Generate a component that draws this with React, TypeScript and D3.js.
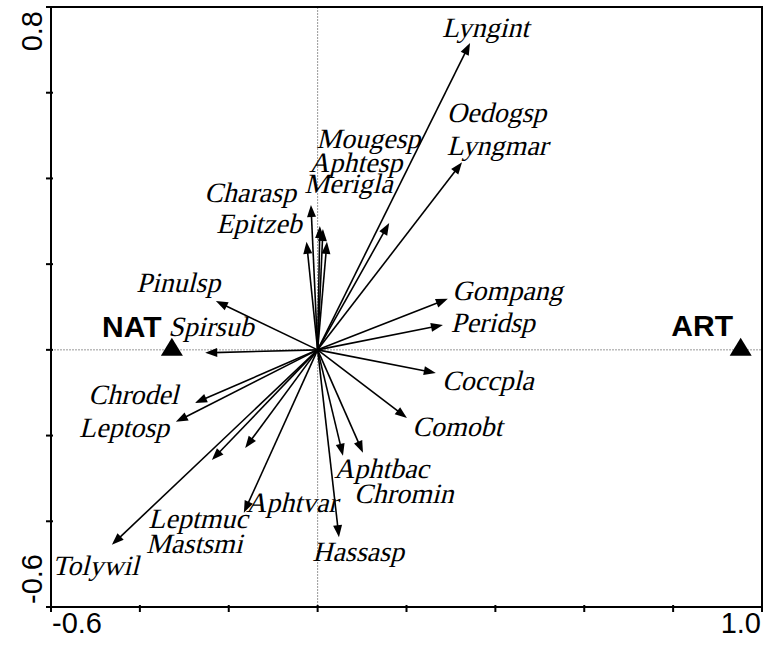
import React from "react";
import * as d3 from "d3";

const W = 763;
const H = 650;

// Species arrows (tip coordinates in axis units)
const species = ["Lyngint", "Oedogsp", "Lyngmar", "Mougesp", "Aphtesp", "Merigla", "Charasp", "Epitzeb", "Pinulsp", "Spirsub", "Gompang", "Peridsp", "Coccpla", "Comobt", "Aphtbac", "Chromin", "Hassasp", "Aphtvar", "Leptmuc", "Mastsmi", "Tolywil", "Chrodel", "Leptosp"];
const arrowX = [0.343, 0.161, 0.325, 0.005, 0.012, 0.021, -0.015, -0.025, -0.229, -0.253, 0.293, 0.282, 0.266, 0.201, 0.057, 0.102, 0.048, -0.166, -0.238, -0.163, -0.463, -0.276, -0.319];
const arrowY = [0.716, 0.296, 0.438, 0.289, 0.282, 0.252, 0.338, 0.252, 0.114, -0.007, 0.119, 0.058, -0.054, -0.159, -0.247, -0.240, -0.437, -0.380, -0.257, -0.229, -0.455, -0.124, -0.168];
// Label anchor positions (axis units)
const labelX = [0.282, 0.293, 0.293, -0.001, -0.017, -0.028, -0.253, -0.226, -0.406, -0.334, 0.305, 0.302, 0.282, 0.215, 0.039, 0.084, -0.010, -0.159, -0.379, -0.384, -0.595, -0.514, -0.535];
const labelY = [0.730, 0.532, 0.455, 0.471, 0.415, 0.366, 0.345, 0.273, 0.135, 0.032, 0.116, 0.042, -0.094, -0.201, -0.299, -0.357, -0.493, -0.378, -0.416, -0.474, -0.525, -0.126, -0.203];

// Sample (nominal variable) points
const sampleNames = ["NAT", "ART"];
const sampleX = [-0.328, 0.952];
const sampleY = [0, 0];
const sampleLabelX = [-0.485, 0.796];
const sampleLabelY = [0.03, 0.032];

const xTicks = [-0.6, -0.4, -0.2, 0, 0.2, 0.4, 0.6, 0.8, 1.0];
const yTicks = [-0.6, -0.4, -0.2, 0, 0.2, 0.4, 0.6, 0.8];
const xTickLabels = ["-0.6", "1.0"];
const yTickLabels = ["-0.6", "0.8"];

const serif = { fontFamily: "Liberation Serif, Times New Roman, Times, serif", fontStyle: "normal", fontSize: "28px" } as React.CSSProperties;
const sans = { fontFamily: "Liberation Sans, Arial, Helvetica, sans-serif" } as React.CSSProperties;

export default function App() {
  const left = 51, right = 762, top = 7, bottom = 607;
  const x = d3.scaleLinear().domain([-0.6, 1.0]).range([left, right]);
  const y = d3.scaleLinear().domain([-0.6, 0.8]).range([bottom, top]);
  const x0 = x(0), y0 = y(0);

  const head = (tx: number, ty: number) => {
    const ang = Math.atan2(ty - y0, tx - x0);
    const L = 12, hw = 4.5;
    const bx = tx - L * Math.cos(ang), by = ty - L * Math.sin(ang);
    const px = -Math.sin(ang), py = Math.cos(ang);
    return `M${tx},${ty}L${bx + hw * px},${by + hw * py}L${bx - hw * px},${by - hw * py}Z`;
  };

  return (
    <svg width={W} height={H} style={{ position: "absolute", left: 0, top: 0, background: "#fff" }}>
      <rect x={0} y={0} width={W} height={H} fill="#fff" />
      {/* zero lines */}
      <line x1={x0} x2={x0} y1={top} y2={bottom} stroke="#999" strokeWidth={1} strokeDasharray="2,1" />
      <line x1={left} x2={right} y1={y0} y2={y0} stroke="#999" strokeWidth={1} strokeDasharray="2,1" />

      {/* arrows */}
      {species.map((s, i) => {
        const tx = x(arrowX[i]), ty = y(arrowY[i]);
        const ang = Math.atan2(ty - y0, tx - x0);
        const ex = tx - 8 * Math.cos(ang), ey = ty - 8 * Math.sin(ang);
        return (
          <g key={s}>
            <line x1={x0} y1={y0} x2={ex} y2={ey} stroke="#000" strokeWidth={1.6} />
            <path d={head(tx, ty)} fill="#000" />
          </g>
        );
      })}

      {/* species labels (serif, slanted) */}
      {species.map((s, i) => (
        <text key={"l" + s} transform={`translate(${x(labelX[i]) - 1},${y(labelY[i])}) skewX(-14)`} style={serif} fill="#000">{s}</text>
      ))}

      {/* samples */}
      {sampleNames.map((n, i) => {
        const cx = x(sampleX[i]), cy = y(sampleY[i]);
        return (
          <g key={n}>
            <path d={`M${cx},${cy - 12}L${cx + 11},${cy + 6}L${cx - 11},${cy + 6}Z`} fill="#000" />
            <text x={x(sampleLabelX[i])} y={y(sampleLabelY[i])} style={{ ...sans, fontWeight: "bold", fontSize: "30px" }} fill="#000">{n}</text>
          </g>
        );
      })}

      {/* frame */}
      <rect x={left} y={top} width={right - left} height={bottom - top} fill="none" stroke="#000" strokeWidth={2} />

      {/* ticks */}
      {xTicks.map((t) => (
        <line key={"xt" + t} x1={x(t)} x2={x(t)} y1={bottom - 2} y2={bottom + 5} stroke="#000" strokeWidth={2} />
      ))}
      {yTicks.map((t) => (
        <line key={"yt" + t} x1={left - 5} x2={left + 2} y1={y(t)} y2={y(t)} stroke="#000" strokeWidth={2} />
      ))}

      {/* tick labels */}
      <text x={x(-0.6) + 1} y={633} style={{ ...sans, fontSize: "29px" }} fill="#000" textAnchor="start">{xTickLabels[0]}</text>
      <text x={x(1.0) - 1} y={633} style={{ ...sans, fontSize: "29px" }} fill="#000" textAnchor="end">{xTickLabels[1]}</text>
      <text transform={`translate(42,${y(-0.6) - 3}) rotate(-90)`} style={{ ...sans, fontSize: "29px" }} fill="#000" textAnchor="start">{yTickLabels[0]}</text>
      <text transform={`translate(42,${y(0.8) + 4}) rotate(-90)`} style={{ ...sans, fontSize: "29px" }} fill="#000" textAnchor="end">{yTickLabels[1]}</text>
    </svg>
  );
}
